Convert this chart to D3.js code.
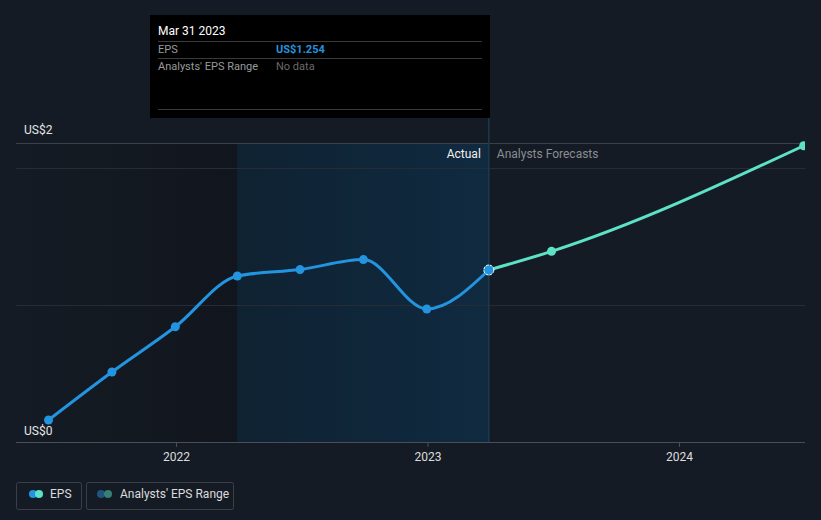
<!DOCTYPE html>
<html><head><meta charset="utf-8">
<script src="https://cdn.jsdelivr.net/npm/d3@7"></script>
<style>
html,body{margin:0;padding:0;background:#151b24;}
svg{display:block;font-family:Roboto,"Noto Sans",sans-serif;}
</style></head>
<body><svg id="c" width="821" height="520"></svg>
<script>
// ---- data ----
const actualDates = ["2021-06-30","2021-09-30","2021-12-31","2022-03-31","2022-06-30","2022-09-30","2022-12-31","2023-03-31"];
const actualEPS = [0.16, 0.51, 0.84, 1.21, 1.257, 1.33, 0.97, 1.254];
const forecastDates = ["2023-03-31","2023-06-30","2024-06-30"];
const forecastEPS = [1.254, 1.39, 2.16];
const yTickValues = [0, 2];
const yTickLabels = ["US$0", "US$2"];
const xTickDates = ["2022-01-01","2023-01-01","2024-01-01"];
const xTickLabels = ["2022","2023","2024"];
const highlightStart = "2022-03-31";
const highlightEnd = "2023-03-31";
const tooltipDate = "Mar 31 2023";
const tooltipEPS = "US$1.254";

(function(){
const parse = d3.utcParse("%Y-%m-%d");
const actual = actualDates.map((d,i)=>({date:parse(d), v:actualEPS[i]}));
const forecast = forecastDates.map((d,i)=>({date:parse(d), v:forecastEPS[i]}));

const svg = d3.select("#c");
const pL = 16, pR = 805, pT = 143, pB = 442;

const x = d3.scaleUtc().domain([parse("2022-01-01"), parse("2024-01-01")]).range([176, 679]);
const y = d3.scaleLinear().domain([0, 2.18]).range([pB, pT]);

const defs = svg.append("defs");
const g1 = defs.append("linearGradient").attr("id","hl").attr("x1","0").attr("x2","1").attr("y1","0").attr("y2","0");
g1.append("stop").attr("offset","0").attr("stop-color","#0f2232");
g1.append("stop").attr("offset","1").attr("stop-color","#102a40");
const g0 = defs.append("linearGradient").attr("id","pre").attr("x1","0").attr("x2","1").attr("y1","0").attr("y2","0");
g0.append("stop").attr("offset","0").attr("stop-color","#151b24");
g0.append("stop").attr("offset","1").attr("stop-color","#11161e");
defs.append("clipPath").attr("id","clip").append("rect")
  .attr("x",pL).attr("y",0).attr("width",pR-pL).attr("height",pB);

const hx0 = x(parse(highlightStart)), hx1 = x(parse(highlightEnd));
svg.append("rect").attr("x",pL).attr("y",pT).attr("width",hx0-pL).attr("height",pB-pT).attr("fill","url(#pre)");
svg.append("rect").attr("x",hx0).attr("y",pT).attr("width",hx1-hx0).attr("height",pB-pT).attr("fill","url(#hl)");

// gridlines
svg.append("line").attr("x1",pL).attr("x2",pR).attr("y1",pT+0.5).attr("y2",pT+0.5).attr("stroke","#3b4048").attr("stroke-width",1);
[1,2].forEach(v=>{
  svg.append("line").attr("x1",pL).attr("x2",pR).attr("y1",Math.round(y(v))+0.5).attr("y2",Math.round(y(v))+0.5)
    .attr("stroke","#262c35").attr("stroke-width",1);
});

// divider line at "now"
svg.append("line").attr("x1",hx1).attr("x2",hx1).attr("y1",118).attr("y2",pB)
  .attr("stroke","#1d3a52").attr("stroke-width",1.5);

// x axis
const xAxis = d3.axisBottom(x).tickValues(xTickDates.map(parse)).tickFormat((d,i)=>xTickLabels[i]).tickSize(5).tickPadding(5);
const ax = svg.append("g").attr("transform",`translate(0,${pB})`).call(xAxis);
ax.select(".domain").attr("d",`M${pL},0.5H${pR}`).attr("stroke","#4a4f57");
ax.selectAll(".tick line").attr("stroke","#4a4f57");
ax.selectAll(".tick text").attr("fill","#dcdcdc").attr("font-size",12).attr("font-family","Roboto,sans-serif");

// y labels
yTickValues.forEach((v,i)=>{
  const yy = v===0 ? y(v)-7 : y(v)-34;
  svg.append("text").attr("x",24).attr("y",yy).attr("fill","#e6e6e6").attr("font-size",12).text(yTickLabels[i]);
});

// Actual / Forecast labels
svg.append("text").attr("x",hx1-8).attr("y",158).attr("text-anchor","end").attr("fill","#f0f0f0").attr("font-size",12).text("Actual");
svg.append("text").attr("x",hx1+8).attr("y",158).attr("fill","#8a8d92").attr("font-size",12).text("Analysts Forecasts");

// lines
const line = d3.line().x(d=>x(d.date)).y(d=>y(d.v)).curve(d3.curveMonotoneX);
const plot = svg.append("g").attr("clip-path","url(#clip)");
plot.append("path").datum(forecast).attr("d",line).attr("fill","none").attr("stroke","#5de2c8").attr("stroke-width",3);
plot.append("path").datum(actual).attr("d",line).attr("fill","none").attr("stroke","#2394df").attr("stroke-width",3);

plot.selectAll(".fd").data(forecast.slice(1)).enter().append("circle")
  .attr("cx",d=>x(d.date)).attr("cy",d=>y(d.v)).attr("r",4.5).attr("fill","#5de2c8");
plot.selectAll(".ad").data(actual.slice(0,-1)).enter().append("circle")
  .attr("cx",d=>x(d.date)).attr("cy",d=>y(d.v)).attr("r",4.5).attr("fill","#2394df");
const last = actual[actual.length-1];
plot.append("circle").attr("cx",x(last.date)).attr("cy",y(last.v)).attr("r",5)
  .attr("fill","#2394df").attr("stroke","#ffffff").attr("stroke-width",1).attr("stroke-dasharray","3,1");

// tooltip
const tt = svg.append("g");
tt.append("rect").attr("x",150).attr("y",15).attr("width",340).attr("height",103).attr("fill","#000");
tt.append("text").attr("x",158).attr("y",35).attr("fill","#ffffff").attr("font-size",12).text(tooltipDate);
[41.5,58.5,109.5].forEach(yy=>tt.append("line").attr("x1",158).attr("x2",482).attr("y1",yy).attr("y2",yy).attr("stroke","#3a3a3a"));
tt.append("text").attr("x",158).attr("y",53).attr("fill","#9a9a9a").attr("font-size",11).text("EPS");
tt.append("text").attr("x",276).attr("y",53).attr("fill","#2394df").attr("font-size",11).attr("font-weight","bold").text(tooltipEPS);
tt.append("text").attr("x",158).attr("y",70).attr("fill","#9a9a9a").attr("font-size",11).text("Analysts' EPS Range");
tt.append("text").attr("x",276).attr("y",70).attr("fill","#6a6a6a").attr("font-size",11).text("No data");

// legend
const lg = svg.append("g");
lg.append("rect").attr("x",16.5).attr("y",482.5).attr("width",65).attr("height",27).attr("rx",2).attr("fill","none").attr("stroke","#3a3f48");
lg.append("circle").attr("cx",33).attr("cy",494).attr("r",4).attr("fill","#2394df");
lg.append("circle").attr("cx",39).attr("cy",494).attr("r",4).attr("fill","#5de2c8");
lg.append("text").attr("x",50).attr("y",498).attr("fill","#dcdcdc").attr("font-size",12).text("EPS");
lg.append("rect").attr("x",86.5).attr("y",482.5).attr("width",147).attr("height",27).attr("rx",2).attr("fill","none").attr("stroke","#3a3f48");
lg.append("circle").attr("cx",101).attr("cy",494).attr("r",4).attr("fill","#1e5480");
lg.append("circle").attr("cx",108).attr("cy",494).attr("r",4).attr("fill","#377f74");
lg.append("text").attr("x",120).attr("y",498).attr("fill","#dcdcdc").attr("font-size",12).text("Analysts' EPS Range");
})();
</script></body></html>
